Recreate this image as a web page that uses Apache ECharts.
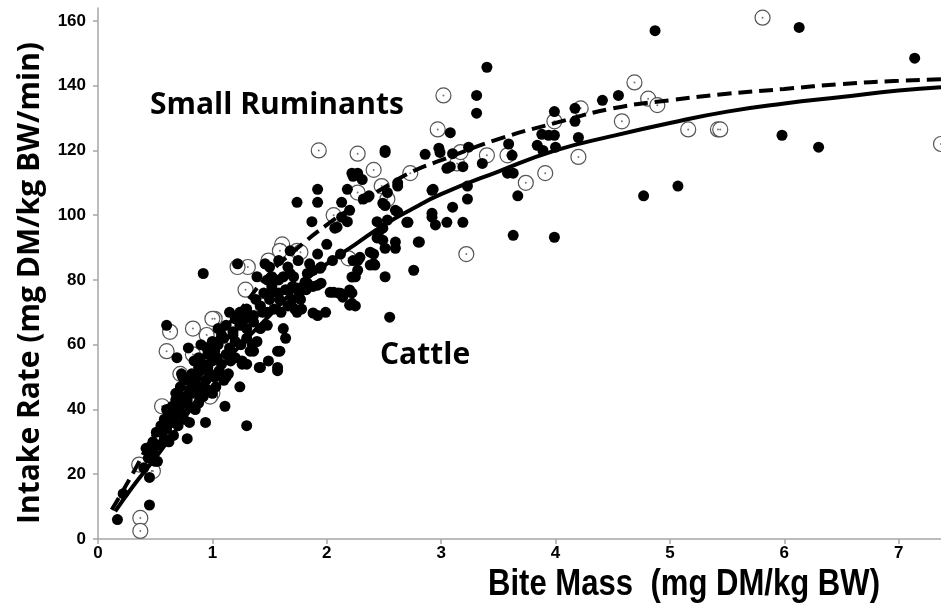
<!DOCTYPE html>
<html>
<head>
<meta charset="utf-8">
<script src="https://cdn.jsdelivr.net/npm/echarts@6/dist/echarts.min.js"></script>
<style>
  html, body { margin: 0; padding: 0; background: #fff; }
  #chart { width: 941px; height: 610px; }
</style>
</head>
<body>
<div id="chart"></div>
<script>
// ticks
const xTicks = [0, 1, 2, 3, 4, 5, 6, 7];
const yTicks = [0, 20, 40, 60, 80, 100, 120, 140, 160];

// open circles (small ruminants), [bite mass, intake rate]
const smallRuminantPoints = [
  [1.93,120],[2.27,119],[2.41,114],[2.48,109],[2.27,107],[2.06,100],[1.61,91],[1.59,89],
  [1.74,89],[1.49,86],[1.31,84],[1.22,84],[1.29,77],[0.63,64],[0.83,65],[0.95,63],
  [1.02,68],[1.0,68],[0.60,58],[0.83,57],[0.72,51],[1.0,45],[0.56,41],[0.36,23],
  [0.47,21],[0.37,6.5],[0.37,2.5],[1.44,72],[0.98,44],[0.48,21],[3.02,137],[2.97,126.5],
  [2.73,113],[3.14,116],[3.40,118.5],[3.58,118.5],[3.74,110],[3.91,113],[4.20,118],[4.58,129],
  [4.69,141],[4.81,136],[4.89,134],[3.99,129],[4.22,133],[3.22,88],[3.17,119.5],[5.81,161],
  [5.16,126.5],[5.42,126.5],[5.44,126.5],[7.37,122],[2.53,105],[2.19,86.7],[1.77,88.6]
];

// filled dots (cattle)
const cattlePoints = [
  // scattered, upper middle
  [2.51,120],[2.22,113],[2.27,113],[2.31,111],[1.92,108],[2.18,108],[1.74,104],[1.92,104],
  [2.13,104],[2.32,105],[2.37,106],[1.87,98],[2.18,98],[2.07,96],[2.44,98],[2.0,91],
  [1.92,88],[1.68,89],[1.46,85],[1.22,85],[0.92,82],[1.39,81],[1.52,81],[1.62,81],
  [1.71,81],[1.83,82],[2.27,86],[2.41,85],[2.51,81],[2.41,88],[2.49,96],
  [0.60,66],[0.79,59],[0.69,56],[0.78,31],[0.94,36],[1.11,41],[1.24,47],[1.30,35],
  [1.26,54],[1.41,53],[1.49,55],[1.57,52],[1.59,58],[1.64,62],[1.62,65],[1.36,58],
  [1.39,61],[1.92,69],[1.99,70],[1.74,70],[1.78,71],[2.25,72],[2.22,76],[2.10,76],
  [0.45,10.5],[0.17,6],[0.45,19],[0.22,14],[1.15,70],[0.52,24],[1.68,82],[1.88,78],
  [1.72,71],[1.77,74],[1.57,58],[1.42,53],[1.57,53],[1.33,58],[1.30,54],[1.12,50],
  [0.73,51],[2.23,112],[2.36,105.6],[2.09,96.3],[1.94,83.6],[2.53,98.5],[2.60,101.5],
  [2.62,109],[2.49,103.7],[2.23,86],[2.38,84.6],[2.25,81],[2.55,68.5],[1.88,69.8],
  [1.59,73.8],[1.44,70],[1.30,70],[1.52,76.2],[1.74,77.5],[1.81,79.3],[1.92,78.4],
  [2.20,76.9],[2.14,74.7],[2.03,76.2],[2.20,72.2],[2.49,92.3],[2.45,94.4],[2.60,91.7],
  [2.20,101.5],[2.13,99.4],[2.51,119.4],[2.62,110],[2.86,118.8],[2.99,119.4],[3.05,114.5],
  [2.92,107.7],[2.53,107],[2.51,103],[2.62,101],[2.70,97.8],[2.92,99.4],[2.95,97],
  [3.05,97.8],[2.44,93],[2.51,89.8],[2.60,89.8],[2.80,91.7],[2.29,87],[2.38,88.6],
  [2.42,84.6],[2.27,83],[2.22,80.9],[2.76,83],[2.22,72.8],[2.06,76.2],[2.12,75.9],
  [1.83,79],[1.88,83],
  // upper right
  [3.40,145.7],[3.31,137],[3.31,131.5],[3.08,125.5],[2.98,120.7],[3.10,119],[3.24,121],
  [3.36,116],[3.08,115],[3.19,115],[3.59,122],[3.62,118.5],[3.84,121.6],[3.89,120],
  [3.99,132],[4.17,133],[4.17,129],[4.41,135.5],[4.55,137],[4.87,157],[3.88,125],
  [3.94,124.7],[3.99,124.7],[4.0,121],[4.20,124],[3.58,113],[3.63,113],[2.93,108],
  [3.23,109],[3.67,106],[3.23,105],[3.10,102.5],[2.92,100.6],[3.19,97.8],[2.81,91.7],
  [3.63,93.8],[3.99,93.2],[4.77,106],[5.07,109],[2.71,97.8],[6.13,158],[7.14,148.5],
  [5.98,124.7],[6.30,121],
  // dense band
  [0.40,22],[0.44,25],[0.48,27],[0.42,28],[0.50,24],
  [0.48,30],[0.53,29],[0.58,31],[0.62,30],[0.51,33],[0.56,33],[0.66,32],
  [0.55,35],[0.60,34],[0.65,36],[0.70,35],[0.58,37],[0.63,38],[0.68,38],[0.75,37],[0.80,36],
  [0.60,40],[0.65,41],[0.70,40],[0.75,42],[0.80,41],[0.85,40],[0.68,43],[0.73,39],[0.78,43],[0.88,42],
  [0.68,45],[0.72,47],[0.76,44],[0.80,46],[0.84,45],[0.88,47],[0.92,44],[0.96,46],[1.00,45],[0.85,48],[1.03,47],
  [0.74,50],[0.78,49],[0.82,51],[0.86,50],[0.90,52],[0.94,49],[0.98,51],[1.02,50],[1.06,52],[1.10,49],[0.88,53],[1.14,51],[0.96,53],
  [0.84,55],[0.88,56],[0.92,54],[0.96,57],[1.00,55],[1.04,56],[1.08,54],[1.12,57],[1.16,55],[1.20,56],[1.26,55],[1.02,58],
  [0.90,60],[0.95,59],[1.00,61],[1.05,60],[1.10,62],[1.15,59],[1.20,61],[1.25,60],[1.30,62],[1.35,60],[1.08,63],[1.18,63],
  [1.05,65],[1.12,66],[1.18,64],[1.24,66],[1.30,65],[1.36,67],[1.42,65],[1.48,66],[1.28,68],[1.20,68],
  [1.24,70],[1.30,71],[1.36,69],[1.42,72],[1.48,70],[1.54,71],[1.60,70],[1.66,72],[1.38,74],[1.50,74],[1.70,74],
  [1.45,76],[1.52,78],[1.58,76],[1.64,77],[1.70,78],[1.76,76],[1.82,77],[1.58,80],[1.48,80],[1.95,79],
  [1.50,84],[1.58,86],[1.66,84],[1.75,86],[1.85,85],[1.95,84],[2.05,86],[2.12,88]
];

// fitted curves
const cattleCurve = [
  [0.15,8.5],[0.3,16],[0.5,25],[0.75,37],[1.0,50],[1.25,60],[1.5,69],[1.75,78],[2.0,85],
  [2.25,91],[2.5,97],[2.75,102],[3.0,106.5],[3.5,113.5],[4.0,120],[4.5,124.5],[5.0,128.5],
  [5.5,132],[6.0,134.5],[6.5,136.5],[7.0,138.5],[7.37,139.5]
];
const smallRuminantCurve = [
  [0.12,9],[0.3,20],[0.5,33],[0.75,47],[1.0,60],[1.25,71],[1.5,82],[1.75,90],[2.0,97],
  [2.25,103],[2.5,108.5],[2.75,113.5],[3.0,117],[3.5,123.5],[4.0,128.5],[4.5,133],[5.0,135.5],
  [5.5,137.5],[6.0,139],[6.5,140.5],[7.0,141.5],[7.37,142]
];

const plain = '"Liberation Sans", Arial, sans-serif';
const humanist = '"Open Sans", "Noto Sans", sans-serif';

let myChart = echarts.init(document.getElementById('chart'));

let axisCommon = {
  type: 'value',
  axisLine: {show: true, lineStyle: {color: '#a6a6a6', width: 1.5}},
  axisTick: {show: true, length: 5, lineStyle: {color: '#a6a6a6', width: 1.5}},
  splitLine: {show: false},
  axisLabel: {
    color: '#000',
    fontWeight: 'bold',
    fontSize: 17,
    fontFamily: plain
  }
};

let option = {
  animation: false,
  backgroundColor: '#fff',
  grid: {left: 98, right: 0, top: 8, bottom: 71, outerBoundsMode: 'none'},
  xAxis: Object.assign({}, axisCommon, {
    min: 0,
    max: 7.37,
    axisTick: Object.assign({}, axisCommon.axisTick, {customValues: xTicks}),
    axisLabel: Object.assign({}, axisCommon.axisLabel, {customValues: xTicks, margin: 6})
  }),
  yAxis: Object.assign({}, axisCommon, {
    min: 0,
    max: 164,
    axisTick: Object.assign({}, axisCommon.axisTick, {customValues: yTicks}),
    axisLabel: Object.assign({}, axisCommon.axisLabel, {customValues: yTicks, margin: 12})
  }),
  graphic: [
    {type: 'text', x: 150, y: 105, style: {text: 'Small Ruminants', font: 'bold 30px ' + humanist, fill: '#000',
      textVerticalAlign: 'middle'}},
    {type: 'text', x: 380, y: 355, style: {text: 'Cattle', font: 'bold 30px ' + humanist, fill: '#000',
      textVerticalAlign: 'middle'}},
    {type: 'text', x: 30, y: 283, rotation: Math.PI / 2,
      style: {text: 'Intake Rate (mg DM/kg BW/min)', font: 'bold 30px ' + humanist, fill: '#000',
        textAlign: 'center', textVerticalAlign: 'middle'}},
    {type: 'text', x: 880, y: 585, scaleX: 0.84,
      style: {text: 'Bite Mass  (mg DM/kg BW)', font: 'bold 37px ' + plain, fill: '#000',
        textAlign: 'right', textVerticalAlign: 'middle'}}
  ],
  series: [
    {
      name: 'Small Ruminants',
      type: 'scatter',
      data: smallRuminantPoints,
      symbol: 'circle',
      symbolSize: 15,
      itemStyle: {color: '#fff', borderColor: '#555', borderWidth: 1.2, opacity: 1},
      z: 1
    },
    {
      name: 'centre',
      type: 'scatter',
      data: smallRuminantPoints,
      symbolSize: 2,
      itemStyle: {color: '#777', opacity: 1},
      silent: true,
      z: 2
    },
    {
      name: 'Cattle',
      type: 'scatter',
      data: cattlePoints,
      symbolSize: 11,
      itemStyle: {color: '#000', opacity: 1},
      z: 3
    },
    {
      name: 'Cattle fit',
      type: 'line',
      data: cattleCurve,
      smooth: true,
      showSymbol: false,
      lineStyle: {color: '#000', width: 4},
      z: 4
    },
    {
      name: 'Small Ruminants fit',
      type: 'line',
      data: smallRuminantCurve,
      smooth: true,
      showSymbol: false,
      lineStyle: {color: '#000', width: 4, type: [14, 7]},
      z: 4
    }
  ]
};

myChart.setOption(option);
</script>
</body>
</html>
